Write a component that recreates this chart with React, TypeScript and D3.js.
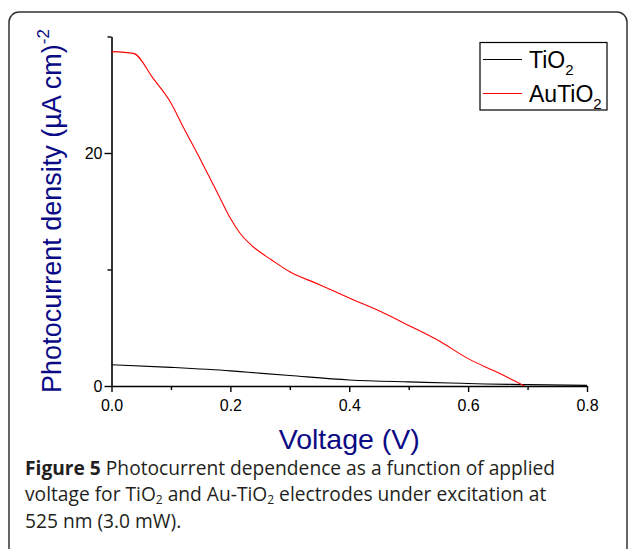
import React, { useEffect, useRef } from "react";
import * as d3 from "d3";

const tioVoltage = [0, 0.1, 0.2, 0.23, 0.3, 0.4, 0.5, 0.57, 0.6, 0.7, 0.8];
const tioCurrent = [1.83, 1.6, 1.3, 1.18, 0.9, 0.52, 0.35, 0.26, 0.21, 0.12, 0.05];

const auVoltage = [0, 0.037, 0.07, 0.1, 0.12, 0.15, 0.18, 0.2, 0.215, 0.235, 0.27, 0.3, 0.35, 0.4, 0.45, 0.5, 0.55, 0.6, 0.65, 0.695];
const auCurrent = [28.7, 28.55, 26.4, 24.3, 22.3, 19.4, 16.4, 14.4, 13.2, 12.1, 10.8, 9.8, 8.7, 7.55, 6.45, 5.2, 3.9, 2.35, 1.15, 0];

const xTicks = [0, 0.2, 0.4, 0.6, 0.8];
const xMinor = [0.1, 0.3, 0.5, 0.7];
const yTicks = [0, 20];
const yMinor = [10, 30];

const legendNames = ["TiO", "AuTiO"];
const legendColors = ["#000000", "#ff0000"];

const App = () => {
  const svgRef = useRef<SVGSVGElement>(null);

  useEffect(() => {
    const w = 629;
    const h = 549;
    const left = 111.5, right = 587, top = 36.5, bottom = 386;
    const svg = d3.select(svgRef.current).attr("width", w).attr("height", h);
    svg.selectAll("*").remove();

    // frame
    svg.append("rect")
      .attr("x", 9).attr("y", 12).attr("width", 618).attr("height", 580)
      .attr("rx", 10).attr("fill", "none").attr("stroke", "#333").attr("stroke-width", 1.5);

    const x = d3.scaleLinear().domain([0, 0.8]).range([left, right]);
    const y = d3.scaleLinear().domain([0, 30]).range([bottom, top]);

    const axisFont = "Liberation Sans, Arial, sans-serif";

    // x axis
    const gx = svg.append("g").attr("transform", `translate(0, ${bottom})`);
    gx.call(d3.axisBottom(x).tickValues(xTicks).tickFormat(d3.format(".1f")).tickSize(6).tickSizeOuter(0));
    gx.append("g").call(d3.axisBottom(x).tickValues(xMinor).tickFormat(() => "").tickSize(4).tickSizeOuter(0))
      .select(".domain").remove();
    gx.selectAll(".domain").attr("stroke-width", 1.6);
    gx.selectAll(".tick line").attr("stroke-width", 1.4);
    gx.selectAll(".tick text").attr("font-size", 16).attr("font-family", axisFont).attr("fill", "#000").attr("dy", "1.0em");

    // y axis
    const gy = svg.append("g").attr("transform", `translate(${left}, 0)`);
    gy.call(d3.axisLeft(y).tickValues(yTicks).tickFormat(d3.format("d")).tickSize(7).tickSizeOuter(0));
    gy.append("g").call(d3.axisLeft(y).tickValues(yMinor).tickFormat(() => "").tickSize(4).tickSizeOuter(0))
      .select(".domain").remove();
    gy.selectAll(".domain").attr("stroke-width", 1.6);
    gy.selectAll(".tick line").attr("stroke-width", 1.4);
    gy.selectAll(".tick text").attr("font-size", 16).attr("font-family", axisFont).attr("fill", "#000").attr("x", -9);

    // series
    const line = d3.line<[number, number]>()
      .x((d) => x(d[0]))
      .y((d) => y(d[1]))
      .curve(d3.curveMonotoneX);

    const tio = tioVoltage.map((v, i) => [v, tioCurrent[i]] as [number, number]);
    const au = auVoltage.map((v, i) => [v, auCurrent[i]] as [number, number]);

    svg.append("path").attr("d", line(tio)).attr("fill", "none").attr("stroke", legendColors[0]).attr("stroke-width", 1.1);
    svg.append("path").attr("d", line(au)).attr("fill", "none").attr("stroke", legendColors[1]).attr("stroke-width", 1.1);

    // legend
    const lg = svg.append("g");
    lg.append("rect").attr("x", 480).attr("y", 42.5).attr("width", 127).attr("height", 67.5)
      .attr("fill", "#fff").attr("stroke", "#000").attr("stroke-width", 1.2);
    legendNames.forEach((name, i) => {
      const ly = 59.5 + i * 34;
      lg.append("line").attr("x1", 483).attr("x2", 522).attr("y1", ly).attr("y2", ly)
        .attr("stroke", legendColors[i]).attr("stroke-width", 1.1);
      const t = lg.append("text").attr("x", 529).attr("y", ly + 8)
        .attr("font-family", axisFont).attr("font-size", 23).attr("fill", "#000");
      t.append("tspan").text(name);
      t.append("tspan").attr("dy", 7).attr("font-size", 15).text("2");
    });

    // axis titles
    const navy = "#0b0b85";
    svg.append("text").attr("x", x(0.4)).attr("y", 449).attr("text-anchor", "middle")
      .attr("font-family", axisFont).attr("font-size", 28.5).attr("fill", navy).text("Voltage (V)");

    const yl = svg.append("text").attr("transform", `translate(61, ${211}) rotate(-90)`)
      .attr("text-anchor", "middle").attr("font-family", axisFont).attr("font-size", 27).attr("fill", navy);
    yl.append("tspan").text("Photocurrent density (\u00b5A cm)");
    yl.append("tspan").attr("dy", -12).attr("font-size", 17).text("-2");

    // caption
    const capFont = "Open Sans, Noto Sans, sans-serif";
    const cap = svg.append("g").attr("font-family", capFont).attr("font-size", 19.2).attr("fill", "#231f20");
    const l1 = cap.append("text").attr("x", 25).attr("y", 475);
    l1.append("tspan").attr("font-weight", "bold").text("Figure 5");
    l1.append("tspan").text(" Photocurrent dependence as a function of applied");
    const l2 = cap.append("text").attr("x", 25).attr("y", 501);
    l2.append("tspan").text("voltage for TiO");
    l2.append("tspan").attr("dy", 3).attr("font-size", 12).text("2");
    l2.append("tspan").attr("dy", -3).text(" and Au-TiO");
    l2.append("tspan").attr("dy", 3).attr("font-size", 12).text("2");
    l2.append("tspan").attr("dy", -3).text(" electrodes under excitation at");
    cap.append("text").attr("x", 25).attr("y", 527.5).text("525 nm (3.0 mW).");
  }, []);

  return <svg ref={svgRef} style={{ position: "absolute", left: 0, top: 0 }}></svg>;
};

export default App;
